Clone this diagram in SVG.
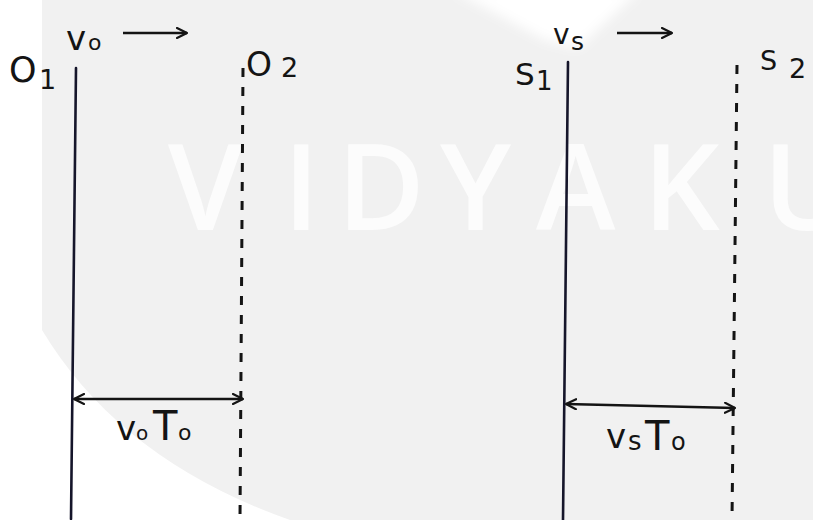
<svg xmlns="http://www.w3.org/2000/svg" width="813" height="520" viewBox="0 0 813 520">
<defs>
<style>
.lbl{font-family:"DejaVu Sans","Liberation Sans",sans-serif;fill:#141414}
.solid{stroke:#15152a;stroke-width:2.6;fill:none;stroke-linecap:round}
.dash{stroke:#141414;stroke-width:3;fill:none;stroke-dasharray:9 10}
.arr{stroke:#141414;stroke-width:2.4;fill:none}
.wm{font-family:"Open Sans","DejaVu Sans",sans-serif;font-size:120px;font-weight:600;fill:#ffffff;opacity:0.8}
</style>
<marker id="head" viewBox="0 0 12 12" refX="11" refY="6" markerWidth="12" markerHeight="12" markerUnits="userSpaceOnUse" orient="auto-start-reverse">
<path d="M1,1 L11,6 L1,11" fill="none" stroke="#141414" stroke-width="2.2" stroke-linecap="round" stroke-linejoin="round"/>
</marker>
<filter id="soft" x="-20%" y="-20%" width="140%" height="140%"><feGaussianBlur stdDeviation="6"/></filter>
</defs>

<g id="background">
<rect width="813" height="520" fill="#ffffff"/>
<path d="M42,0 L813,0 L813,520 L290,520 Q120,460 42,330 Z" fill="#f1f1f1"/>
<polygon points="452,-10 640,-10 578,48 545,40" fill="#ffffff" filter="url(#soft)"/>
<text class="wm" x="168" y="230">V</text>
<text class="wm" x="283" y="230">I</text>
<text class="wm" x="337" y="230">D</text>
<text class="wm" x="440" y="230">Y</text>
<text class="wm" x="536" y="230">A</text>
<text class="wm" x="643" y="230">K</text>
<text class="wm" x="763" y="230">U</text>
</g>

<g id="O1">
<line class="solid" x1="76" y1="68" x2="71" y2="519"/>
<text class="lbl" x="9" y="82" font-size="35">O</text>
<text class="lbl" x="39" y="89" font-size="27">1</text>
</g>

<g id="O2">
<line class="dash" x1="243" y1="68" x2="240" y2="519"/>
<text class="lbl" x="246" y="76" font-size="33">O</text>
<text class="lbl" x="281" y="77" font-size="27">2</text>
</g>

<g id="S1">
<line class="solid" x1="568" y1="62" x2="563" y2="520"/>
<text class="lbl" x="515" y="85" font-size="31">S</text>
<text class="lbl" x="536" y="90" font-size="26">1</text>
</g>

<g id="S2">
<line class="dash" x1="737" y1="65" x2="732" y2="520"/>
<text class="lbl" x="760" y="70" font-size="27">S</text>
<text class="lbl" x="789" y="78" font-size="27">2</text>
</g>

<g id="vo-label">
<text class="lbl" x="66" y="50" font-size="34">v</text>
<text class="lbl" x="88" y="50" font-size="22">o</text>
</g>

<g id="vs-label">
<text class="lbl" x="553" y="44" font-size="28">v</text>
<text class="lbl" x="571" y="50" font-size="25">s</text>
</g>

<g id="voTo-label">
<text class="lbl" x="116" y="440" font-size="34">v</text>
<text class="lbl" x="136" y="440" font-size="20">o</text>
<text class="lbl" x="153" y="440" font-size="40">T</text>
<text class="lbl" x="178" y="440" font-size="22">o</text>
</g>

<g id="vsTo-label">
<text class="lbl" x="606" y="448" font-size="34">v</text>
<text class="lbl" x="628" y="450" font-size="26">s</text>
<text class="lbl" x="645" y="450" font-size="40">T</text>
<text class="lbl" x="671" y="450" font-size="24">o</text>
</g>

<g id="connectors">
<line class="arr" x1="123" y1="33" x2="187" y2="33" marker-end="url(#head)"/>
<line class="arr" x1="617" y1="33" x2="672" y2="33" marker-end="url(#head)"/>
<line class="arr" x1="74" y1="399" x2="243" y2="399" marker-start="url(#head)" marker-end="url(#head)"/>
<line class="arr" x1="566" y1="404" x2="735" y2="408" marker-start="url(#head)" marker-end="url(#head)"/>
</g>
</svg>
